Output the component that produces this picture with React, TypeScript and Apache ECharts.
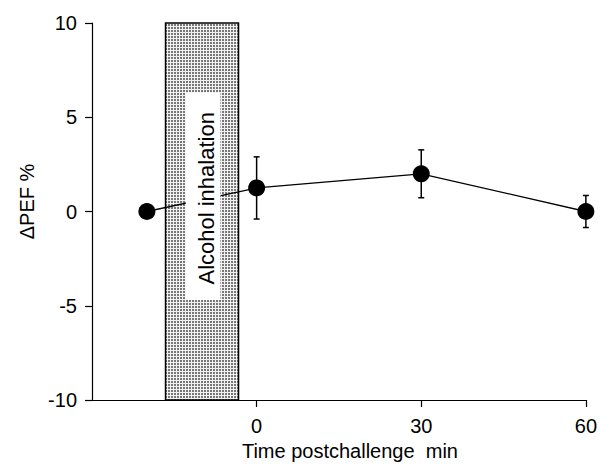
import React, { useEffect, useRef } from "react";
import * as echarts from "echarts";

// ---- data ----
const times = [-20, 0, 30, 60];
const meanPEF = [0, 1.25, 2.0, 0];
const semPEF = [0, 1.65, 1.27, 0.85];
const xTickValues = [0, 30, 60];
const inhalationWindow = [-16.6, -3.3];
const inhalationLabel = "Alcohol inhalation";
const xAxisTitle = "Time postchallenge  min";
const yAxisTitle = "\u0394PEF %";

const FONT = "'Liberation Sans Narrow', 'Arial Narrow', 'Liberation Sans', Arial, sans-serif";
const FONT_REG = "'Liberation Sans', Arial, sans-serif";

const tileSvg =
  "<svg xmlns='http://www.w3.org/2000/svg' width='3' height='3'>" +
  "<rect width='3' height='3' fill='#f2f2f2'/>" +
  "<rect width='2' height='2' fill='#777777'/></svg>";
const dotPattern: any = {
  image: "data:image/svg+xml;charset=utf-8," + encodeURIComponent(tileSvg),
  repeat: "repeat",
  imageWidth: 3,
  imageHeight: 3,
};

export default function App() {
  const ref = useRef<HTMLDivElement>(null);
  useEffect(() => {
    document.body.style.margin = "0";
    const chart = echarts.init(ref.current!, null, { renderer: "svg" });
    const axisColor = "#000";
    chart.setOption({
      animation: false,
      backgroundColor: "#fff",
      grid: { left: 92, right: 13, top: 23, bottom: 66 },
      xAxis: {
        type: "value",
        min: -30,
        max: 60,
        interval: 30,
        splitLine: { show: false },
        axisLine: { onZero: false, lineStyle: { color: axisColor, width: 1.2 } },
        axisTick: { customValues: xTickValues, length: 7, lineStyle: { color: axisColor, width: 1.2 } },
        axisLabel: { customValues: xTickValues, fontSize: 20, fontFamily: FONT, color: "#000", margin: 16 },
        name: xAxisTitle,
        nameLocation: "middle",
        nameGap: 38,
        nameTextStyle: { fontSize: 20, fontFamily: FONT, color: "#000", padding: [0, 0, 0, 22] },
      },
      yAxis: {
        type: "value",
        min: -10,
        max: 10,
        interval: 5,
        splitLine: { show: false },
        axisLine: { show: true, onZero: false, lineStyle: { color: axisColor, width: 1.2 } },
        axisTick: { show: true, length: 7, lineStyle: { color: axisColor, width: 1.2 } },
        axisLabel: { fontSize: 20, fontFamily: FONT, color: "#000", margin: 15 },
        name: yAxisTitle,
        nameLocation: "middle",
        nameGap: 46,
        nameTextStyle: { fontSize: 20, fontFamily: FONT, color: "#000", padding: [0, 0, 0, 20] },
      },
      series: [
        {
          type: "custom",
          z: 1,
          silent: true,
          encode: { x: [0, 1], y: [2, 3] },
          data: [[inhalationWindow[0], inhalationWindow[1], 10, -10]],
          renderItem: (params: any, api: any) => {
            const p1 = api.coord([api.value(0), api.value(2)]);
            const p2 = api.coord([api.value(1), api.value(3)]);
            return {
              type: "rect",
              shape: { x: p1[0], y: p1[1], width: p2[0] - p1[0], height: p2[1] - p1[1] },
              style: { fill: dotPattern, stroke: "#000", lineWidth: 1.5 },
            };
          },
        },
        {
          type: "line",
          z: 2,
          data: times.map((t, i) => [t, meanPEF[i]]),
          symbol: "circle",
          symbolSize: 17,
          itemStyle: { color: "#000" },
          lineStyle: { color: "#000", width: 1.3 },
        },
        {
          type: "custom",
          z: 2,
          silent: true,
          encode: { x: 0, y: [1, 2] },
          data: times
            .map((t, i) => [t, meanPEF[i] - semPEF[i], meanPEF[i] + semPEF[i]])
            .filter((d) => d[2] - d[1] > 0),
          renderItem: (params: any, api: any) => {
            const lo = api.coord([api.value(0), api.value(1)]);
            const hi = api.coord([api.value(0), api.value(2)]);
            const cap = 3;
            const st = { stroke: "#000", lineWidth: 1.5 };
            return {
              type: "group",
              children: [
                { type: "line", shape: { x1: lo[0], y1: lo[1], x2: hi[0], y2: hi[1] }, style: st },
                { type: "line", shape: { x1: lo[0] - cap, y1: lo[1], x2: lo[0] + cap, y2: lo[1] }, style: st },
                { type: "line", shape: { x1: hi[0] - cap, y1: hi[1], x2: hi[0] + cap, y2: hi[1] }, style: st },
              ],
            };
          },
        },
        {
          type: "custom",
          z: 3,
          silent: true,
          encode: { x: [0, 1], y: [2, 3] },
          data: [[-12.9, -6.6, 6.3, -4.7, -9.1, 0.7]],
          renderItem: (params: any, api: any) => {
            const p1 = api.coord([api.value(0), api.value(2)]);
            const p2 = api.coord([api.value(1), api.value(3)]);
            const c = api.coord([api.value(4), api.value(5)]);
            return {
              type: "group",
              children: [
                {
                  type: "rect",
                  shape: { x: p1[0], y: p1[1], width: p2[0] - p1[0], height: p2[1] - p1[1] },
                  style: { fill: "#fff" },
                },
                {
                  type: "text",
                  x: c[0],
                  y: c[1],
                  rotation: Math.PI / 2,
                  style: {
                    text: inhalationLabel,
                    fontSize: 22,
                    fontFamily: FONT_REG,
                    fill: "#000",
                    align: "center",
                    verticalAlign: "middle",
                  },
                },
              ],
            };
          },
        },
      ],
    });
    return () => chart.dispose();
  }, []);
  return <div ref={ref} style={{ width: 600, height: 466, position: "absolute", left: 0, top: 0 }} />;
}
